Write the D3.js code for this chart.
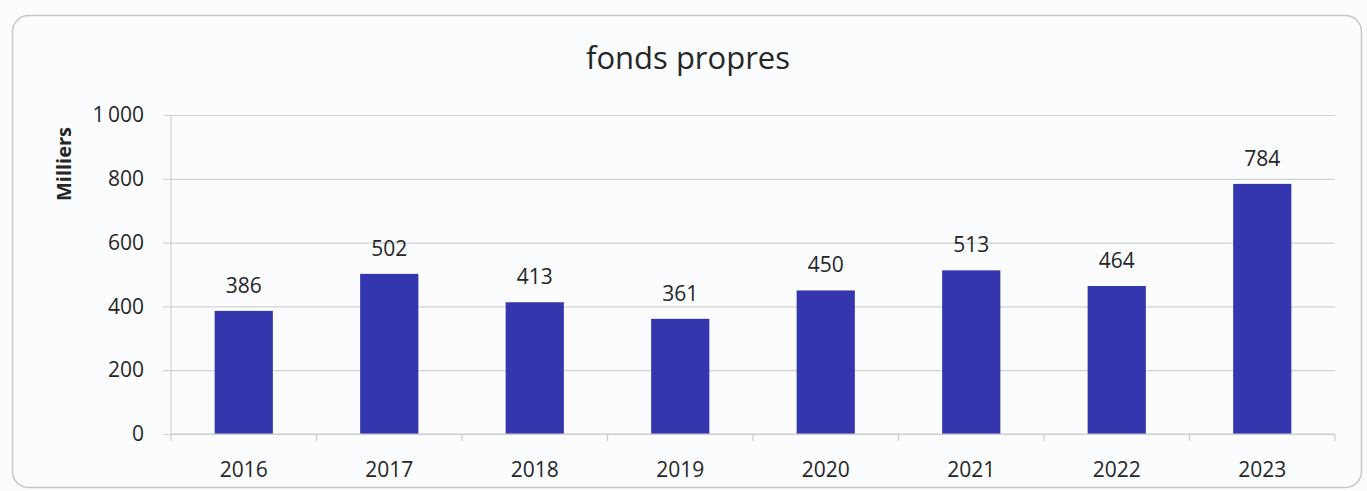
<!DOCTYPE html>
<html>
<head>
<meta charset="utf-8">
<script src="https://cdn.jsdelivr.net/npm/d3@7"></script>
<style>
  html, body { margin: 0; padding: 0; background: #fbfcfe; }
  svg { display: block; }
</style>
</head>
<body>
<svg id="chart" width="1367" height="491"></svg>
<script>
// Equity by year, in thousands
const years = ["2016", "2017", "2018", "2019", "2020", "2021", "2022", "2023"];
const values = [386, 502, 413, 361, 450, 513, 464, 784];
const yTicks = [0, 200, 400, 600, 800, 1000];
const titleText = "fonds propres";
const yAxisTitle = "Milliers";

const W = 1367, H = 491;
const margin = { left: 171, right: 32, top: 115, bottom: 57 };
const font = "'Open Sans', sans-serif";
const ink = "#262626";
const svg = d3.select("#chart");

// rounded chart frame
svg.append("rect")
  .attr("x", 12.5).attr("y", 15.5)
  .attr("width", 1349).attr("height", 472)
  .attr("rx", 16).attr("ry", 16)
  .attr("fill", "#fbfcfe")
  .attr("stroke", "#c4c6c8").attr("stroke-width", 1.5);

const x = d3.scaleBand()
  .domain(years)
  .range([margin.left, W - margin.right])
  .paddingInner(0.6).paddingOuter(0.3);

const y = d3.scaleLinear()
  .domain([0, 1000])
  .range([H - margin.bottom, margin.top]);

const fmt = v => d3.format(",")(v).replace(",", "\u2009");

// horizontal gridlines + y labels
const yAxis = d3.axisLeft(y)
  .tickValues(yTicks)
  .tickSize(-(W - margin.right - margin.left + 8))
  .tickPadding(19)
  .tickFormat(fmt);

const gy = svg.append("g")
  .attr("transform", `translate(${margin.left - 8},0)`)
  .call(yAxis);
gy.select(".domain").remove();
gy.selectAll(".tick line")
  .attr("stroke", "#cfd1d3").attr("stroke-width", 1.2);
gy.selectAll(".tick text")
  .attr("font-family", font)
  .attr("font-size", 21)
  .attr("fill", ink);

// vertical axis line
svg.append("line")
  .attr("x1", margin.left).attr("x2", margin.left)
  .attr("y1", y(1000)).attr("y2", y(0))
  .attr("stroke", "#cfd1d3").attr("stroke-width", 1.2);

// bars
svg.append("g").selectAll("rect")
  .data(values)
  .join("rect")
  .attr("x", (d, i) => x(years[i]))
  .attr("y", d => y(d))
  .attr("width", x.bandwidth())
  .attr("height", d => y(0) - y(d))
  .attr("fill", "#3336ad");

// value labels
svg.append("g").selectAll("text")
  .data(values)
  .join("text")
  .attr("x", (d, i) => x(years[i]) + x.bandwidth() / 2)
  .attr("y", d => y(d) - 18)
  .attr("text-anchor", "middle")
  .attr("font-family", font)
  .attr("font-size", 21)
  .attr("fill", ink)
  .text(d => d);

// x axis with category separators
const xAxis = svg.append("g")
  .attr("transform", `translate(0,${y(0)})`);
xAxis.append("line")
  .attr("x1", margin.left).attr("x2", W - margin.right)
  .attr("stroke", "#c9cbcd").attr("stroke-width", 1.2);
xAxis.selectAll("line.sep")
  .data(d3.range(years.length + 1))
  .join("line")
  .attr("class", "sep")
  .attr("x1", i => margin.left + i * (W - margin.right - margin.left) / years.length)
  .attr("x2", i => margin.left + i * (W - margin.right - margin.left) / years.length)
  .attr("y1", 0).attr("y2", 7)
  .attr("stroke", "#c9cbcd").attr("stroke-width", 1.2);
xAxis.selectAll("text")
  .data(years)
  .join("text")
  .attr("x", d => x(d) + x.bandwidth() / 2)
  .attr("y", 43)
  .attr("text-anchor", "middle")
  .attr("font-family", font)
  .attr("font-size", 21)
  .attr("fill", ink)
  .text(d => d);

// title
svg.append("text")
  .attr("x", 688).attr("y", 69)
  .attr("text-anchor", "middle")
  .attr("font-family", font)
  .attr("font-size", 31)
  .attr("fill", ink)
  .text(titleText);

// y axis title
svg.append("text")
  .attr("transform", "translate(71,164) rotate(-90)")
  .attr("text-anchor", "middle")
  .attr("font-family", font)
  .attr("font-size", 20)
  .attr("font-weight", "bold")
  .attr("fill", ink)
  .text(yAxisTitle);
</script>
</body>
</html>
